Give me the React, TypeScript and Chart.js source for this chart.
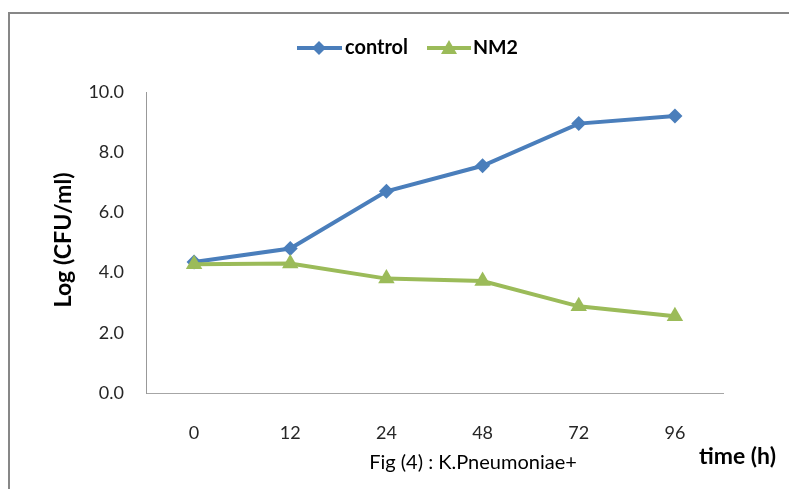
import React, { useEffect, useRef } from "react";
import { Chart, registerables } from "chart.js";

Chart.register(...registerables);

const categories = ["0", "12", "24", "48", "72", "96"];
const controlValues = [4.35, 4.8, 6.7, 7.55, 8.95, 9.2];
const nm2Values = [4.28, 4.3, 3.8, 3.72, 2.88, 2.55];
const seriesNames = ["control", "NM2"];
const yTitle = "Log (CFU/ml)";
const xTitle = "Fig (4) : K.Pneumoniae+";
const xUnit = "time (h)";

const BLUE = "#4A7EBB";
const GREEN = "#9BBB59";
const FONT = "Lato, 'Open Sans', sans-serif";

function fitSize(ctx: CanvasRenderingContext2D, text: string, weight: string, target: number) {
  ctx.font = `${weight} 100px ${FONT}`;
  const w = ctx.measureText(text).width;
  return (100 * target) / w;
}

const textPlugin = {
  id: "textPlugin",
  afterDraw(chart: any) {
    const ctx: CanvasRenderingContext2D = chart.ctx;
    ctx.save();
    ctx.fillStyle = "#000";
    ctx.textBaseline = "middle";
    ctx.textAlign = "left";

    // legend
    const drawLegendLine = (x1: number, x2: number, y: number, color: string) => {
      ctx.strokeStyle = color;
      ctx.lineWidth = 4;
      ctx.beginPath();
      ctx.moveTo(x1, y);
      ctx.lineTo(x2, y);
      ctx.stroke();
    };
    const ly = 48;
    drawLegendLine(297, 342, ly, BLUE);
    ctx.fillStyle = BLUE;
    ctx.beginPath();
    ctx.moveTo(319 - 7, ly);
    ctx.lineTo(319, ly - 7);
    ctx.lineTo(319 + 7, ly);
    ctx.lineTo(319, ly + 7);
    ctx.closePath();
    ctx.fill();
    drawLegendLine(427, 471, ly, GREEN);
    ctx.fillStyle = GREEN;
    ctx.beginPath();
    ctx.moveTo(449, ly - 8);
    ctx.lineTo(449 + 8, ly + 6);
    ctx.lineTo(449 - 8, ly + 6);
    ctx.closePath();
    ctx.fill();

    ctx.fillStyle = "#000";
    let s = fitSize(ctx, seriesNames[0], "bold", 63);
    ctx.font = `bold ${s}px ${FONT}`;
    ctx.fillText(seriesNames[0], 345, ly);
    s = fitSize(ctx, seriesNames[1], "bold", 45);
    ctx.font = `bold ${s}px ${FONT}`;
    ctx.fillText(seriesNames[1], 473, ly);

    // y title
    s = fitSize(ctx, yTitle, "bold", 135);
    ctx.font = `bold ${s}px ${FONT}`;
    ctx.save();
    ctx.translate(64, 240);
    ctx.rotate(-Math.PI / 2);
    ctx.textAlign = "center";
    ctx.fillText(yTitle, 0, 0);
    ctx.restore();

    // x title
    ctx.font = `normal 20px ${FONT}`;
    ctx.textAlign = "center";
    ctx.fillText(xTitle, 473, 463);

    s = fitSize(ctx, xUnit, "bold", 77);
    ctx.font = `bold ${s}px ${FONT}`;
    ctx.textAlign = "left";
    ctx.fillText(xUnit, 699, 457);
    ctx.restore();
  },
};

export default function App() {
  const ref = useRef<HTMLCanvasElement | null>(null);
  useEffect(() => {
    if (!ref.current) return;
    const chart = new Chart(ref.current, {
      type: "line",
      data: {
        labels: categories,
        datasets: [
          {
            label: seriesNames[0],
            data: controlValues,
            borderColor: BLUE,
            backgroundColor: BLUE,
            borderWidth: 4,
            pointStyle: "rectRot",
            pointRadius: 7.5,
            pointBorderWidth: 0,
            pointBackgroundColor: BLUE,
            tension: 0,
            order: 1,
          },
          {
            label: seriesNames[1],
            data: nm2Values,
            borderColor: GREEN,
            backgroundColor: GREEN,
            borderWidth: 4,
            pointStyle: "triangle",
            pointRadius: 9.5,
            pointBorderWidth: 0,
            pointBackgroundColor: GREEN,
            tension: 0,
            order: 0,
          },
        ],
      },
      options: {
        responsive: false,
        animation: false,
        devicePixelRatio: 1,
        layout: { padding: { top: 92, right: 66, left: 0, bottom: 0 } },
        plugins: {
          legend: { display: false },
          tooltip: { enabled: false },
          title: { display: false },
        },
        scales: {
          x: {
            type: "category",
            offset: true,
            grid: { display: false, drawTicks: false },
            border: { display: true, color: "#A6A6A6", width: 1 },
            ticks: {
              color: "#262626",
              font: { family: FONT, size: 18 },
              padding: 29,
              maxRotation: 0,
            },
            afterFit: (scale: any) => {
              scale.height = 96;
            },
          },
          y: {
            min: 0,
            max: 10,
            grid: { display: false, drawTicks: false },
            border: { display: true, color: "#999999", width: 1 },
            ticks: {
              stepSize: 2,
              color: "#262626",
              font: { family: FONT, size: 18 },
              padding: 22,
              callback: (v: any) => Number(v).toFixed(1),
            },
            afterFit: (scale: any) => {
              scale.width = 146;
            },
          },
        },
      },
      plugins: [textPlugin],
    });
    return () => chart.destroy();
  }, []);

  return (
    <div
      style={{
        position: "fixed",
        left: 0,
        top: 0,
        width: 789,
        height: 489,
        overflow: "hidden",
        background: "#fff",
      }}
    >
      <div
        style={{
          position: "absolute",
          left: 8,
          top: 12,
          width: 820,
          height: 520,
          border: "2px solid #878787",
        }}
      />
      <canvas
        ref={ref}
        width={789}
        height={489}
        style={{ position: "absolute", left: 0, top: 0, width: 789, height: 489 }}
      />
    </div>
  );
}
